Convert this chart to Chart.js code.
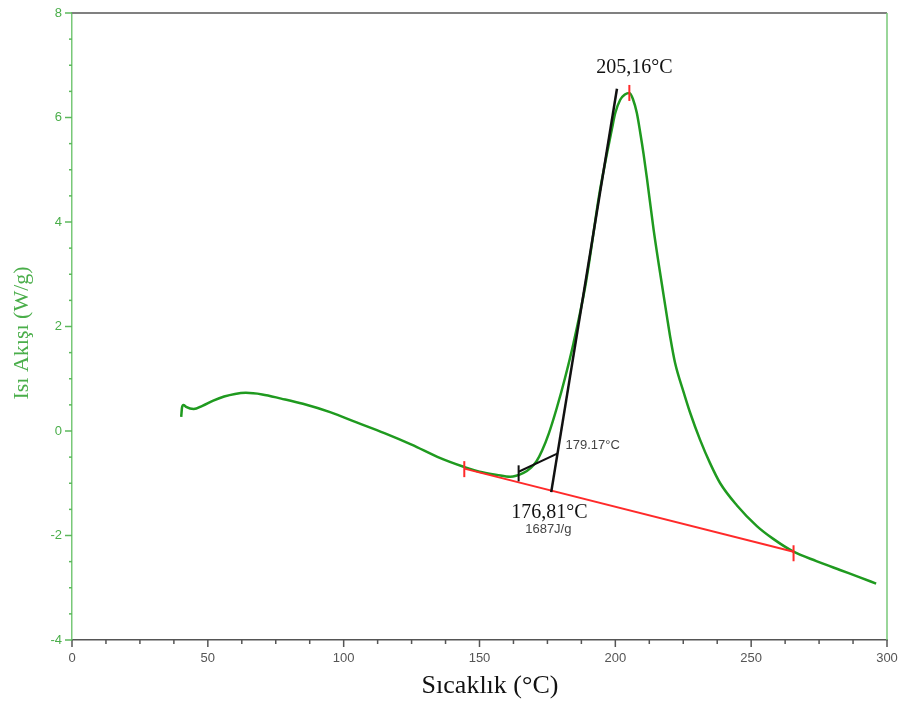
<!DOCTYPE html>
<html>
<head>
<meta charset="utf-8">
<script src="https://cdn.jsdelivr.net/npm/chart.js@4.4.0/dist/chart.umd.min.js"></script>
<style>
  html, body { margin: 0; padding: 0; background: #fff; }
  #wrap { width: 902px; height: 707px; }
</style>
</head>
<body>
<div id="wrap"><canvas id="dsc" width="902" height="707"></canvas></div>
<script>
// DSC curve - heat flow vs temperature
const temps = [40.2, 40.5, 41.0, 42.0, 44.8, 48, 52, 56, 60, 64, 70, 77, 85, 95, 105, 115, 125, 135.6,
    144.4, 150, 156.4, 161.3, 166.2, 169, 171, 173, 175.5, 178.5, 181.5, 184.6, 188.9, 191, 194, 196.5,
    198.7, 200, 201.8, 203.5, 205.2, 206.5, 207.9, 209.2, 210.4, 211.6, 214.1, 217.7, 219.0, 220.2, 222.0,
    225.1, 227.6, 231.2, 234.9, 238.6, 244.7, 252.1, 258, 265.6, 274, 282.7, 290, 296];
const heatFlow = [0.27, 0.45, 0.50, 0.46, 0.42, 0.48, 0.58, 0.66, 0.71, 0.73, 0.70, 0.62, 0.52, 0.36, 0.16, -0.04, -0.26, -0.52,
    -0.69, -0.78, -0.84, -0.875, -0.80, -0.70, -0.58, -0.38, -0.05, 0.45, 1.02, 1.68, 2.76, 3.45, 4.50, 5.20,
    5.77, 6.09, 6.34, 6.44, 6.47, 6.35, 6.09, 5.70, 5.30, 4.85, 3.85, 2.62, 2.19, 1.80, 1.30,
    0.75, 0.34, -0.17, -0.62, -1.00, -1.42, -1.82, -2.06, -2.31, -2.49, -2.66, -2.80, -2.92];

// integration baseline (red) and onset construction (black)
const baseX = [144.4, 265.6];
const baseY = [-0.72, -2.31];
const tangentX = [176.4, 200.6];
const tangentY = [-1.17, 6.55];
const onsetX = [164.4, 178.8];
const onsetY = [-0.78, -0.43];

// small vertical markers
const redMarkX = [144.4, 265.6, 205.16];
const redMarkY = [-0.73, -2.34, 6.47];
const blackMarkX = [164.4];
const blackMarkY = [-0.81];

const xTicks = [0, 50, 100, 150, 200, 250, 300];
const yTicks = [-4, -2, 0, 2, 4, 6, 8];

const labels = [
    { text: '205,16°C', x: 205.16, y: 6.47, dx: 5, dy: -25, font: '20px "Liberation Serif"', color: '#111' },
    { text: '176,81°C', x: 176.81, y: -1.15, dx: -3, dy: 22, font: '20px "Liberation Serif"', color: '#111' },
    { text: '1687J/g', x: 176.81, y: -1.15, dx: -4, dy: 38, font: '13px "Liberation Sans"', color: '#444' },
    { text: '179.17°C', x: 179.17, y: -0.43, dx: 34, dy: -8, font: '13px "Liberation Sans"', color: '#444' }
];

const pts = (xs, ys) => xs.map((x, i) => ({ x: x, y: ys[i] }));

const GREEN_AXIS = '#78c878';
const GREEN_TEXT = '#4aae4a';

const decorPlugin = {
    id: 'decor',
    beforeDatasetsDraw(chart) {
        const { ctx, chartArea: a, scales } = chart;
        ctx.save();
        // top frame
        ctx.strokeStyle = '#808080';
        ctx.lineWidth = 2;
        ctx.beginPath(); ctx.moveTo(a.left, a.top); ctx.lineTo(a.right, a.top); ctx.stroke();
        // right frame
        ctx.strokeStyle = GREEN_AXIS;
        ctx.lineWidth = 1.5;
        ctx.beginPath(); ctx.moveTo(a.right, a.top); ctx.lineTo(a.right, a.bottom); ctx.stroke();

        // x ticks
        ctx.strokeStyle = '#555';
        ctx.lineWidth = 1.5;
        for (let v = 0; v <= 300.01; v += 12.5) {
            const px = scales.x.getPixelForValue(v);
            const len = (v % 50 === 0) ? 7 : 4;
            ctx.beginPath(); ctx.moveTo(px, a.bottom); ctx.lineTo(px, a.bottom + len); ctx.stroke();
        }
        // y ticks
        ctx.strokeStyle = '#5cb85c';
        for (let v = -4; v <= 8.01; v += 0.5) {
            const py = scales.y.getPixelForValue(v);
            const major = Math.abs(v % 2) < 1e-6;
            ctx.beginPath(); ctx.moveTo(a.left - (major ? 7 : 3), py); ctx.lineTo(a.left, py); ctx.stroke();
        }

        // axis titles
        ctx.fillStyle = '#111';
        ctx.font = '26px "Liberation Serif"';
        ctx.textAlign = 'center';
        ctx.textBaseline = 'middle';
        ctx.fillText('Sıcaklık (°C)', 490, 686);
        ctx.save();
        ctx.translate(22, 333);
        ctx.rotate(-Math.PI / 2);
        ctx.fillStyle = GREEN_TEXT;
        ctx.font = '22px "Liberation Serif"';
        ctx.fillText('Isı Akışı (W/g)', 0, 0);
        ctx.restore();
        ctx.restore();
    },
    afterDatasetsDraw(chart) {
        const { ctx, scales } = chart;
        ctx.save();
        ctx.lineWidth = 2;
        ctx.strokeStyle = '#ff2a2a';
        redMarkX.forEach((x, i) => {
            const px = scales.x.getPixelForValue(x), py = scales.y.getPixelForValue(redMarkY[i]);
            ctx.beginPath(); ctx.moveTo(px, py - 8); ctx.lineTo(px, py + 8); ctx.stroke();
        });
        ctx.strokeStyle = '#111';
        blackMarkX.forEach((x, i) => {
            const px = scales.x.getPixelForValue(x), py = scales.y.getPixelForValue(blackMarkY[i]);
            ctx.beginPath(); ctx.moveTo(px, py - 8); ctx.lineTo(px, py + 8); ctx.stroke();
        });
        ctx.textAlign = 'center';
        ctx.textBaseline = 'middle';
        labels.forEach(l => {
            ctx.font = l.font;
            ctx.fillStyle = l.color;
            ctx.fillText(l.text, scales.x.getPixelForValue(l.x) + l.dx, scales.y.getPixelForValue(l.y) + l.dy);
        });
        ctx.restore();
    }
};

new Chart(document.getElementById('dsc'), {
    type: 'scatter',
    data: {
        datasets: [
            { data: pts(tangentX, tangentY), showLine: true, borderColor: '#111', borderWidth: 2.5, pointRadius: 0, order: 1 },
            { data: pts(onsetX, onsetY), showLine: true, borderColor: '#111', borderWidth: 2, pointRadius: 0, order: 1 },
            { data: pts(baseX, baseY), showLine: true, borderColor: '#ff2a2a', borderWidth: 2, pointRadius: 0, order: 2 },
            { data: pts(temps, heatFlow), showLine: true, borderColor: '#1f9a1f', borderWidth: 2.5, pointRadius: 0,
              cubicInterpolationMode: 'monotone', order: 3 }
        ]
    },
    options: {
        responsive: false,
        animation: false,
        devicePixelRatio: 1,
        layout: { padding: { top: 13, right: 15, left: 0, bottom: 0 } },
        plugins: { legend: { display: false }, tooltip: { enabled: false } },
        scales: {
            x: {
                type: 'linear', min: 0, max: 300,
                afterBuildTicks: s => { s.ticks = xTicks.map(v => ({ value: v })); },
                afterFit: s => { s.height = 67; s.paddingLeft = 0; s.paddingRight = 0; },
                grid: { display: false, drawTicks: false },
                border: { display: true, color: '#555', width: 1.5 },
                ticks: { padding: 11, color: '#555', font: { family: 'Liberation Sans', size: 13 }, maxRotation: 0 }
            },
            y: {
                type: 'linear', min: -4, max: 8,
                afterBuildTicks: s => { s.ticks = yTicks.map(v => ({ value: v })); },
                afterFit: s => { s.width = 72; s.paddingTop = 0; s.paddingBottom = 0; },
                grid: { display: false, drawTicks: false },
                border: { display: true, color: GREEN_AXIS, width: 1.5 },
                ticks: { padding: 10, color: GREEN_TEXT, font: { family: 'Liberation Sans', size: 13 } }
            }
        }
    },
    plugins: [decorPlugin]
});
</script>
</body>
</html>
